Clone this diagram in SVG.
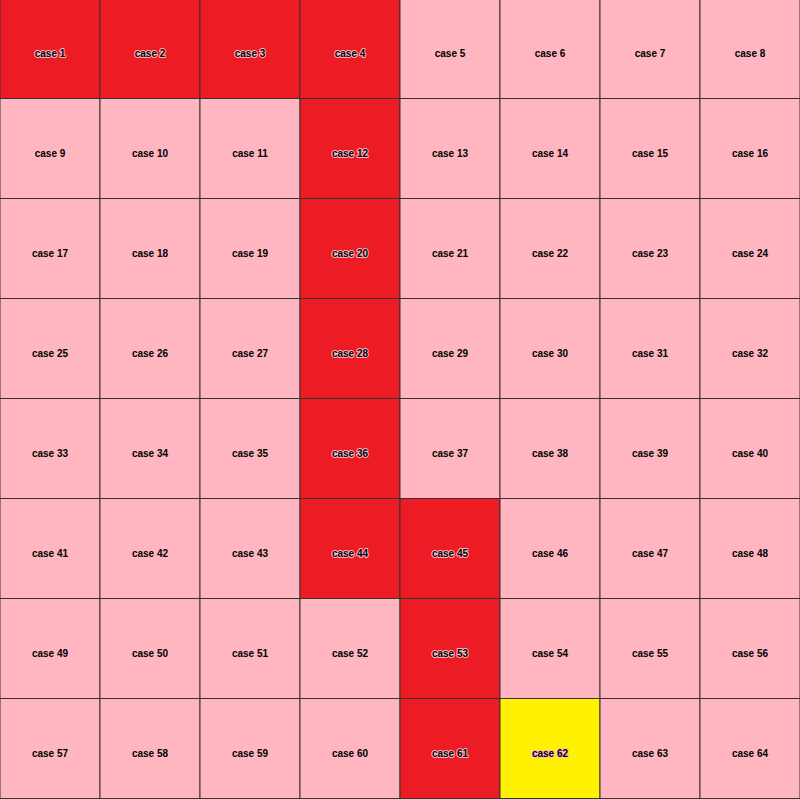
<svg xmlns="http://www.w3.org/2000/svg" width="800" height="799" viewBox="0 0 800 799">
<style>
.c rect{stroke:#333;stroke-width:1;width:100px;height:100px}
.p{fill:#ffb6c1}.r{fill:#ed1c24}.y{fill:#fff200}
text{font-family:"Liberation Sans",Arial,sans-serif;font-size:10px;font-weight:bold;fill:#000;text-anchor:middle;stroke:#ffb6c1;stroke-width:2;paint-order:stroke;stroke-linejoin:round}
</style>
<rect width="800" height="799" fill="#ffb6c1"/>
<g class="c">
<g id="case1"><rect class="r" x="0" y="-1.5" width="100" height="100"/><text x="50" y="56.6">case 1</text></g>
<g id="case2"><rect class="r" x="100" y="-1.5" width="100" height="100"/><text x="150" y="56.6">case 2</text></g>
<g id="case3"><rect class="r" x="200" y="-1.5" width="100" height="100"/><text x="250" y="56.6">case 3</text></g>
<g id="case4"><rect class="r" x="300" y="-1.5" width="100" height="100"/><text x="350" y="56.6">case 4</text></g>
<g id="case5"><rect class="p" x="400" y="-1.5" width="100" height="100"/><text x="450" y="56.6">case 5</text></g>
<g id="case6"><rect class="p" x="500" y="-1.5" width="100" height="100"/><text x="550" y="56.6">case 6</text></g>
<g id="case7"><rect class="p" x="600" y="-1.5" width="100" height="100"/><text x="650" y="56.6">case 7</text></g>
<g id="case8"><rect class="p" x="700" y="-1.5" width="100" height="100"/><text x="750" y="56.6">case 8</text></g>
<g id="case9"><rect class="p" x="0" y="98.5" width="100" height="100"/><text x="50" y="156.6">case 9</text></g>
<g id="case10"><rect class="p" x="100" y="98.5" width="100" height="100"/><text x="150" y="156.6">case 10</text></g>
<g id="case11"><rect class="p" x="200" y="98.5" width="100" height="100"/><text x="250" y="156.6">case 11</text></g>
<g id="case12"><rect class="r" x="300" y="98.5" width="100" height="100"/><text x="350" y="156.6">case 12</text></g>
<g id="case13"><rect class="p" x="400" y="98.5" width="100" height="100"/><text x="450" y="156.6">case 13</text></g>
<g id="case14"><rect class="p" x="500" y="98.5" width="100" height="100"/><text x="550" y="156.6">case 14</text></g>
<g id="case15"><rect class="p" x="600" y="98.5" width="100" height="100"/><text x="650" y="156.6">case 15</text></g>
<g id="case16"><rect class="p" x="700" y="98.5" width="100" height="100"/><text x="750" y="156.6">case 16</text></g>
<g id="case17"><rect class="p" x="0" y="198.5" width="100" height="100"/><text x="50" y="256.6">case 17</text></g>
<g id="case18"><rect class="p" x="100" y="198.5" width="100" height="100"/><text x="150" y="256.6">case 18</text></g>
<g id="case19"><rect class="p" x="200" y="198.5" width="100" height="100"/><text x="250" y="256.6">case 19</text></g>
<g id="case20"><rect class="r" x="300" y="198.5" width="100" height="100"/><text x="350" y="256.6">case 20</text></g>
<g id="case21"><rect class="p" x="400" y="198.5" width="100" height="100"/><text x="450" y="256.6">case 21</text></g>
<g id="case22"><rect class="p" x="500" y="198.5" width="100" height="100"/><text x="550" y="256.6">case 22</text></g>
<g id="case23"><rect class="p" x="600" y="198.5" width="100" height="100"/><text x="650" y="256.6">case 23</text></g>
<g id="case24"><rect class="p" x="700" y="198.5" width="100" height="100"/><text x="750" y="256.6">case 24</text></g>
<g id="case25"><rect class="p" x="0" y="298.5" width="100" height="100"/><text x="50" y="356.6">case 25</text></g>
<g id="case26"><rect class="p" x="100" y="298.5" width="100" height="100"/><text x="150" y="356.6">case 26</text></g>
<g id="case27"><rect class="p" x="200" y="298.5" width="100" height="100"/><text x="250" y="356.6">case 27</text></g>
<g id="case28"><rect class="r" x="300" y="298.5" width="100" height="100"/><text x="350" y="356.6">case 28</text></g>
<g id="case29"><rect class="p" x="400" y="298.5" width="100" height="100"/><text x="450" y="356.6">case 29</text></g>
<g id="case30"><rect class="p" x="500" y="298.5" width="100" height="100"/><text x="550" y="356.6">case 30</text></g>
<g id="case31"><rect class="p" x="600" y="298.5" width="100" height="100"/><text x="650" y="356.6">case 31</text></g>
<g id="case32"><rect class="p" x="700" y="298.5" width="100" height="100"/><text x="750" y="356.6">case 32</text></g>
<g id="case33"><rect class="p" x="0" y="398.5" width="100" height="100"/><text x="50" y="456.6">case 33</text></g>
<g id="case34"><rect class="p" x="100" y="398.5" width="100" height="100"/><text x="150" y="456.6">case 34</text></g>
<g id="case35"><rect class="p" x="200" y="398.5" width="100" height="100"/><text x="250" y="456.6">case 35</text></g>
<g id="case36"><rect class="r" x="300" y="398.5" width="100" height="100"/><text x="350" y="456.6">case 36</text></g>
<g id="case37"><rect class="p" x="400" y="398.5" width="100" height="100"/><text x="450" y="456.6">case 37</text></g>
<g id="case38"><rect class="p" x="500" y="398.5" width="100" height="100"/><text x="550" y="456.6">case 38</text></g>
<g id="case39"><rect class="p" x="600" y="398.5" width="100" height="100"/><text x="650" y="456.6">case 39</text></g>
<g id="case40"><rect class="p" x="700" y="398.5" width="100" height="100"/><text x="750" y="456.6">case 40</text></g>
<g id="case41"><rect class="p" x="0" y="498.5" width="100" height="100"/><text x="50" y="556.6">case 41</text></g>
<g id="case42"><rect class="p" x="100" y="498.5" width="100" height="100"/><text x="150" y="556.6">case 42</text></g>
<g id="case43"><rect class="p" x="200" y="498.5" width="100" height="100"/><text x="250" y="556.6">case 43</text></g>
<g id="case44"><rect class="r" x="300" y="498.5" width="100" height="100"/><text x="350" y="556.6">case 44</text></g>
<g id="case45"><rect class="r" x="400" y="498.5" width="100" height="100"/><text x="450" y="556.6">case 45</text></g>
<g id="case46"><rect class="p" x="500" y="498.5" width="100" height="100"/><text x="550" y="556.6">case 46</text></g>
<g id="case47"><rect class="p" x="600" y="498.5" width="100" height="100"/><text x="650" y="556.6">case 47</text></g>
<g id="case48"><rect class="p" x="700" y="498.5" width="100" height="100"/><text x="750" y="556.6">case 48</text></g>
<g id="case49"><rect class="p" x="0" y="598.5" width="100" height="100"/><text x="50" y="656.6">case 49</text></g>
<g id="case50"><rect class="p" x="100" y="598.5" width="100" height="100"/><text x="150" y="656.6">case 50</text></g>
<g id="case51"><rect class="p" x="200" y="598.5" width="100" height="100"/><text x="250" y="656.6">case 51</text></g>
<g id="case52"><rect class="p" x="300" y="598.5" width="100" height="100"/><text x="350" y="656.6">case 52</text></g>
<g id="case53"><rect class="r" x="400" y="598.5" width="100" height="100"/><text x="450" y="656.6">case 53</text></g>
<g id="case54"><rect class="p" x="500" y="598.5" width="100" height="100"/><text x="550" y="656.6">case 54</text></g>
<g id="case55"><rect class="p" x="600" y="598.5" width="100" height="100"/><text x="650" y="656.6">case 55</text></g>
<g id="case56"><rect class="p" x="700" y="598.5" width="100" height="100"/><text x="750" y="656.6">case 56</text></g>
<g id="case57"><rect class="p" x="0" y="698.5" width="100" height="100"/><text x="50" y="756.6">case 57</text></g>
<g id="case58"><rect class="p" x="100" y="698.5" width="100" height="100"/><text x="150" y="756.6">case 58</text></g>
<g id="case59"><rect class="p" x="200" y="698.5" width="100" height="100"/><text x="250" y="756.6">case 59</text></g>
<g id="case60"><rect class="p" x="300" y="698.5" width="100" height="100"/><text x="350" y="756.6">case 60</text></g>
<g id="case61"><rect class="r" x="400" y="698.5" width="100" height="100"/><text x="450" y="756.6">case 61</text></g>
<g id="case62"><rect class="y" x="500" y="698.5" width="100" height="100"/><text x="550" y="756.6">case 62</text></g>
<g id="case63"><rect class="p" x="600" y="698.5" width="100" height="100"/><text x="650" y="756.6">case 63</text></g>
<g id="case64"><rect class="p" x="700" y="698.5" width="100" height="100"/><text x="750" y="756.6">case 64</text></g>
</g>
<g id="connectors"/>
</svg>
